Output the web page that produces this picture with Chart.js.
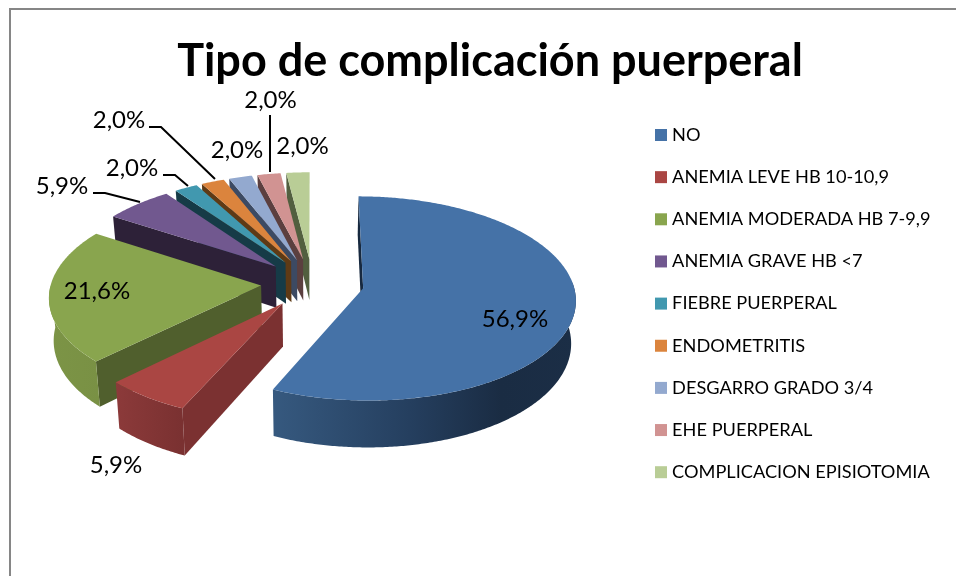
<!DOCTYPE html>
<html>
<head>
<meta charset="utf-8">
<style>html,body{margin:0;padding:0;background:#fff}#w{position:relative;width:956px;height:576px}</style>
<script src="https://cdn.jsdelivr.net/npm/chart.js@4"></script>
</head>
<body>
<div id="w"><canvas id="c" width="956" height="576"></canvas></div>
<script>
const titleText = "Tipo de complicación puerperal";
const categories = ["NO","ANEMIA LEVE HB 10-10,9","ANEMIA MODERADA HB 7-9,9","ANEMIA GRAVE HB <7","FIEBRE PUERPERAL","ENDOMETRITIS","DESGARRO GRADO 3/4","EHE PUERPERAL","COMPLICACION EPISIOTOMIA"];
const percentages = [56.9,5.9,21.6,5.9,2.0,2.0,2.0,2.0,2.0];
const topColors = ["#4572A7","#AA4643","#89A54E","#71588F","#4198AF","#DB843D","#93A9CF","#D19392","#B9CD96"];
const sideColors = ["#17293f","#7b3131","#505f2d","#2d2138","#163b47","#5e3a15","#3c4a63","#5b3f3f","#525f3f"];

const VIEW = {x0:312.5, y0:283, ax:210, ay:100, k:0.1, depth:42, shrink:0.982};
const LABELS = [
  {x:515,y:319},{x:116,y:465},{x:97,y:291},{x:62,y:186},{x:132,y:168},
  {x:119,y:120},{x:237,y:150},{x:270.5,y:100},{x:302.5,y:146}
];
const LEADERS = [
  null,null,null,
  [[93,193],[105,193],[140,202]],
  [[163,175],[175,175],[188,186]],
  [[149,127],[161,127],[215,179]],
  null,
  [[270,115],[270,172]],
  null
];
const DRAW_ORDER = [8,7,6,5,4,3,2,0,1];

function project(u,v){
  const w = 1 - VIEW.k*v;
  return {x:VIEW.x0+VIEW.ax*u/w, y:VIEW.y0+VIEW.ay*v/w, h:VIEW.depth/w};
}
function below(p){
  return {x:VIEW.x0+(p.x-VIEW.x0)*VIEW.shrink, y:p.y+p.h};
}
function outerWallFill(ctx,i){
  const g = ctx.createLinearGradient(i===0?273:(i===1?115:48),0,i===0?577:(i===1?182:262),0);
  if(i===0){g.addColorStop(0,"#36597f");g.addColorStop(.45,"#253f5f");g.addColorStop(.75,"#1a2c43");g.addColorStop(1,"#1b2e46");}
  else if(i===1){g.addColorStop(0,"#8c3a3a");g.addColorStop(1,"#7a3131");}
  else if(i===2){g.addColorStop(0,"#7c9446");g.addColorStop(1,"#70873f");}
  else {g.addColorStop(0,sideColors[i]);g.addColorStop(1,sideColors[i]);}
  return g;
}
const pie3d = {
  id:"pie3d",
  beforeDraw(chart){
    const ctx=chart.ctx;
    ctx.save();
    ctx.fillStyle="#fff";ctx.fillRect(0,0,chart.width,chart.height);
    ctx.strokeStyle="#868686";ctx.lineWidth=2;
    ctx.beginPath();ctx.moveTo(10,chart.height+2);ctx.lineTo(10,9);ctx.lineTo(chart.width+2,9);ctx.stroke();
    ctx.restore();
    const lg=chart.legend;
    const pad=lg.options.labels.padding, fs=lg.options.labels.font.size;
    lg.left=659-pad; lg.right=lg.left+300; lg.top=135-fs/2-pad; lg.bottom=chart.height+100;
  },
  beforeDatasetDraw(){return false;},
  beforeDatasetsDraw(chart){
    const ctx=chart.ctx, arcs=chart.getDatasetMeta(0).data;
    for(const i of DRAW_ORDER){
      const a=arcs[i], R=a.outerRadius, mid=(a.startAngle+a.endAngle)/2;
      const ox=Math.cos(mid)*a.options.offset/R, oy=Math.sin(mid)*a.options.offset/R;
      const pt=t=>project(ox+Math.cos(t),oy+Math.sin(t));
      const apex=project(ox,oy);
      const s=pt(a.startAngle);
      ctx.fillStyle=sideColors[i];
      ctx.beginPath();
      const sb=below(s),ab=below(apex);
      ctx.moveTo(s.x,s.y);ctx.lineTo(apex.x,apex.y);ctx.lineTo(ab.x,ab.y);ctx.lineTo(sb.x,sb.y);ctx.closePath();ctx.fill();
      const t0=Math.max(a.startAngle,-0.06), t1=Math.min(a.endAngle,Math.PI);
      if(t1>t0){
        const n=Math.ceil((t1-t0)/0.01);
        ctx.fillStyle=outerWallFill(ctx,i);
        ctx.beginPath();
        for(let j=0;j<=n;j++){const p=pt(t0+(t1-t0)*j/n);j?ctx.lineTo(p.x,p.y):ctx.moveTo(p.x,p.y);}
        for(let j=n;j>=0;j--){const p=below(pt(t0+(t1-t0)*j/n));ctx.lineTo(p.x,p.y);}
        ctx.closePath();ctx.fill();
      }
      const n=Math.ceil((a.endAngle-a.startAngle)/0.01);
      ctx.fillStyle=a.options.backgroundColor;
      ctx.beginPath();ctx.moveTo(apex.x,apex.y);
      for(let j=0;j<=n;j++){const p=pt(a.startAngle+(a.endAngle-a.startAngle)*j/n);ctx.lineTo(p.x,p.y);}
      ctx.closePath();ctx.fill();
    }
  },
  afterDatasetsDraw(chart){
    const ctx=chart.ctx;
    ctx.save();
    ctx.strokeStyle="#000";ctx.lineWidth=2;
    LEADERS.forEach(l=>{ if(!l) return; ctx.beginPath(); l.forEach((p,j)=>j?ctx.lineTo(p[0],p[1]):ctx.moveTo(p[0],p[1])); ctx.stroke(); });
    ctx.fillStyle="#000";ctx.font='24px Lato';ctx.textAlign="center";ctx.textBaseline="middle";
    percentages.forEach((v,i)=>ctx.fillText(v.toFixed(1).replace(".",",")+"%",LABELS[i].x,LABELS[i].y));
    ctx.restore();
  }
};
new Chart(document.getElementById("c"),{
  type:"pie",
  data:{labels:categories,datasets:[{data:percentages,backgroundColor:topColors,borderWidth:0,offset:40,radius:163}]},
  plugins:[pie3d],
  options:{
    responsive:false,animation:false,
    radius:163,
    layout:{padding:{left:24}},
    plugins:{
      tooltip:{enabled:false},
      title:{display:true,text:titleText,color:"#000",font:{family:"Lato",size:45,weight:"bold"},padding:{top:34,bottom:0}},
      legend:{position:"right",align:"start",labels:{usePointStyle:true,pointStyle:"rect",boxWidth:4,boxHeight:12,padding:23.95,color:"#000",font:{family:"Lato",size:18.2}}}
    }
  }
});
</script>
</body>
</html>
